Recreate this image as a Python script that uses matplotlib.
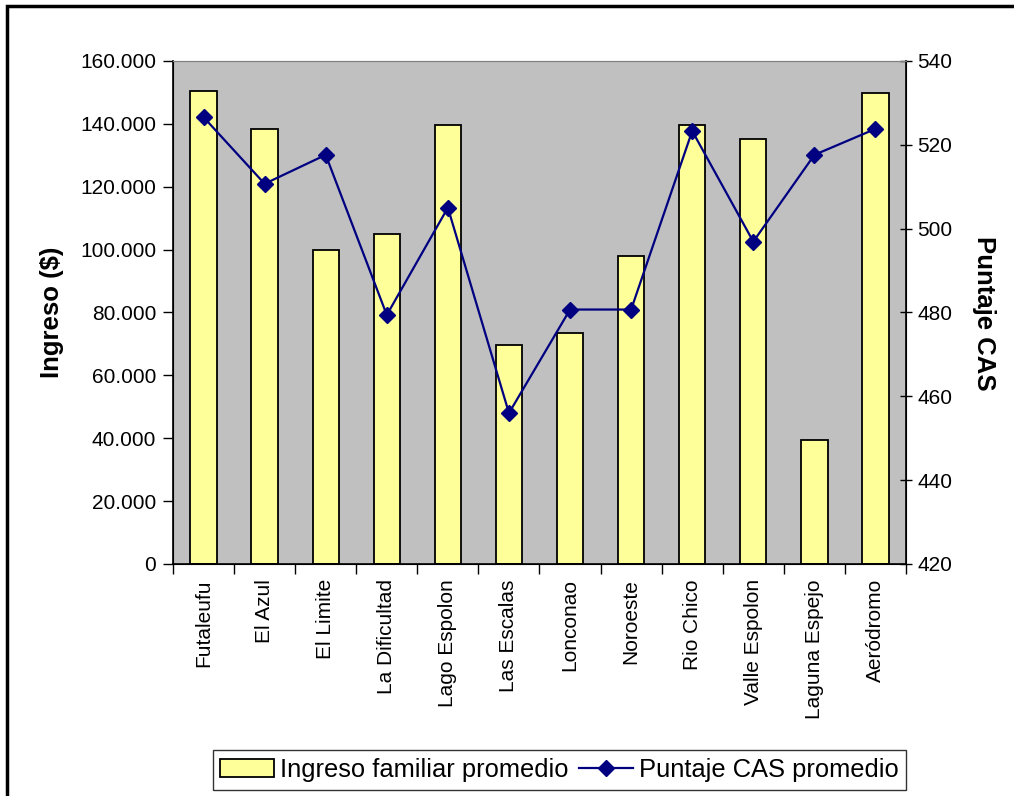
import matplotlib
matplotlib.use("Agg")
import matplotlib.pyplot as plt
from matplotlib.ticker import FuncFormatter, FixedLocator
from matplotlib.patches import Rectangle

plt.rcParams["font.family"] = ["Liberation Sans", "DejaVu Sans"]

# data
sectores = ["Futaleufu", "El Azul", "El Limite", "La Dificultad", "Lago Espolon",
            "Las Escalas", "Lonconao", "Noroeste", "Rio Chico", "Valle Espolon",
            "Laguna Espejo", "Aeródromo"]
ingreso = [150500, 138500, 100000, 105000, 139700, 69700, 73500, 98000,
           139700, 135300, 39500, 149900]
puntaje = [526.6, 510.7, 517.6, 479.4, 505.0, 456.0, 480.7, 480.7,
           523.3, 496.9, 517.6, 523.8]

fig = plt.figure(figsize=(10.14, 7.96), dpi=100)
ax = fig.add_axes([0.1706, 0.2915, 0.7229, 0.6319])
ax.set_facecolor("#C0C0C0")

x = list(range(len(sectores)))
bars = ax.bar(x, ingreso, width=0.43, color="#FFFF99", edgecolor="black",
              linewidth=1.3, label="Ingreso familiar promedio", zorder=2)
ax.set_xlim(-0.5, len(sectores) - 0.5)
ax.set_ylim(0, 160000)
ax.set_yticks(range(0, 160001, 20000))
ax.yaxis.set_major_formatter(FuncFormatter(lambda v, p: f"{int(v):,}".replace(",", ".")))
ax.set_xticks(x)
ax.set_xticklabels(sectores, rotation=90, fontsize=15)
ax.tick_params(axis="x", length=0, pad=11)
ax.xaxis.set_minor_locator(FixedLocator([i + 0.5 for i in range(-1, len(sectores))]))
ax.tick_params(axis="x", which="minor", length=7, direction="out", width=1)
ax.tick_params(axis="y", labelsize=15, length=7, direction="out", width=1, pad=5)
ax.spines["top"].set_color("#808080")
ax.spines["left"].set_linewidth(1.2)
ax.spines["bottom"].set_linewidth(1.2)

ax2 = ax.twinx()
line, = ax2.plot(x, puntaje, color="#000080", marker="D", markersize=8,
                 linewidth=1.6, label="Puntaje CAS promedio", zorder=3)
ax2.set_ylim(420, 540)
ax2.set_yticks(range(420, 541, 20))
ax2.tick_params(axis="y", labelsize=15, length=8, direction="inout", width=1, pad=4)
ax2.spines["right"].set_linewidth(1.2)
ax2.spines["top"].set_color("#808080")

# axis titles
fig.text(52 / 1014, 1 - 312 / 796, "Ingreso ($)", rotation=90, fontsize=18.5,
         fontweight="bold", ha="center", va="center")
fig.text(984 / 1014, 1 - 313 / 796, "Puntaje CAS", rotation=-90, fontsize=18.5,
         fontweight="bold", ha="center", va="center")

fig.legend([bars, line], ["Ingreso familiar promedio", "Puntaje CAS promedio"],
           loc="center", bbox_to_anchor=(559.5 / 1014, 1 - 770 / 796), ncol=2,
           fontsize=18.4, frameon=True, fancybox=False, edgecolor="black",
           handlelength=2.1, columnspacing=0.4, handletextpad=0.25,
           borderpad=0.3, borderaxespad=0)

# outer chart border
fig.patches.append(Rectangle((7 / 1014, -0.01), 1.0, 1 - 6 / 796 + 0.01,
                             transform=fig.transFigure, fill=False,
                             edgecolor="black", linewidth=2.5))

fig.savefig("out.png", dpi=100)
